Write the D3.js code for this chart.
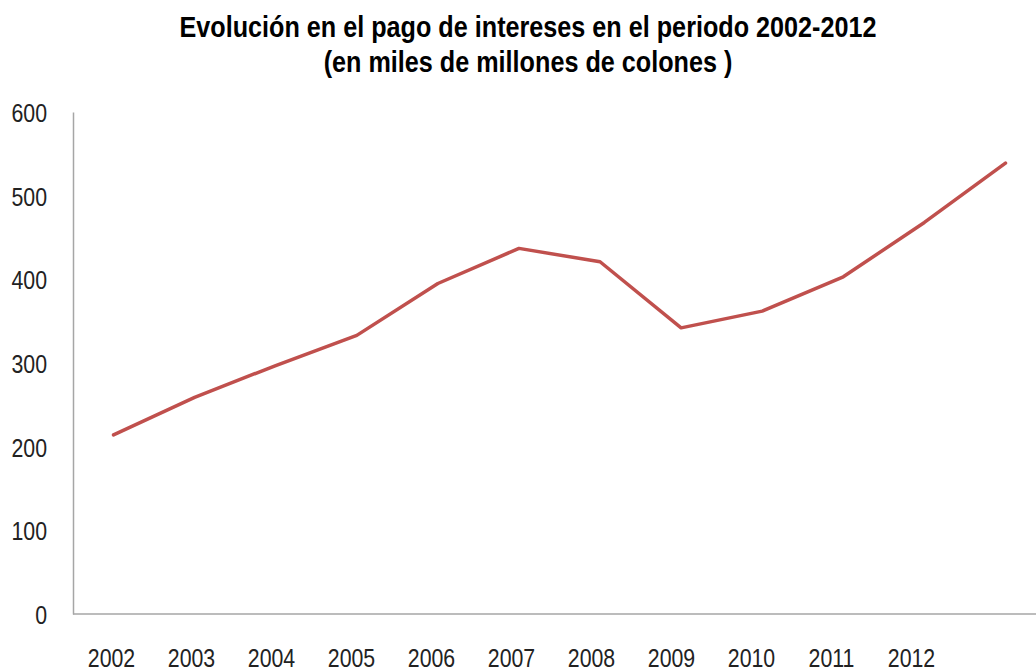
<!DOCTYPE html>
<html>
  <head>
    <style>
      body { margin: 0; background: #fff; }
      text { font-family: "Liberation Sans", Arial, sans-serif; fill: #222; }
      .title { font-weight: bold; font-size: 30px; fill: #000; }
      .tick text { font-size: 26px; }
    </style>
  </head>
  <body>
    <script src="https://cdn.jsdelivr.net/npm/d3@7/dist/d3.min.js"></script>
    <script>
      // categories (last point has no label in the original)
      var years = ["2002", "2003", "2004", "2005", "2006", "2007", "2008", "2009", "2010", "2011", "2012", "2013"];
      var yearLabels = ["2002", "2003", "2004", "2005", "2006", "2007", "2008", "2009", "2010", "2011", "2012"];
      var intereses = [214, 259, 297, 333, 395, 437, 421, 342, 362, 403, 468, 539];
      var yTicks = [0, 100, 200, 300, 400, 500, 600];

      var width = 1036, height = 671;
      var margin = { top: 112, right: -10, bottom: 57, left: 73 };
      var squeeze = 0.82;   // the original type is narrow and tall

      var svg = d3.select("body")
          .append("svg")
          .attr("width", width)
          .attr("height", height);

      var x = d3.scaleBand()
          .domain(years)
          .range([margin.left, width - margin.right]);

      var y = d3.scaleLinear()
          .domain([0, 600])
          .range([height - margin.bottom, margin.top]);

      // title
      var titles = ["Evolución en el pago de intereses en el periodo 2002-2012",
                    "(en miles de millones de colones )"];
      svg.selectAll(".title")
        .data(titles)
        .enter()
        .append("text")
        .attr("class", "title")
        .attr("text-anchor", "middle")
        .attr("transform", function (d, i) { return "translate(528," + (37 + i * 35) + ") scale(0.84,1)"; })
        .text(function (d) { return d; });

      // y axis
      var yAxis = svg.append("g")
          .attr("transform", "translate(" + margin.left + ",0)")
          .call(d3.axisLeft(y).tickValues(yTicks).tickSize(0));
      yAxis.select(".domain").attr("stroke", "#a6a6a6").attr("stroke-width", 1.5);
      yAxis.selectAll(".tick text")
        .attr("x", -26 / squeeze)
        .attr("dy", "0.36em")
        .attr("transform", "scale(" + squeeze + ",1)");

      // x axis, labels sit on their own slightly tighter spacing
      var xLab = d3.scalePoint()
          .domain(yearLabels)
          .range([111, 911]);
      var xAxis = svg.append("g")
          .attr("transform", "translate(0," + y(0) + ")")
          .call(d3.axisBottom(xLab).tickSize(0));
      xAxis.select(".domain").remove();
      xAxis.selectAll(".tick text")
        .attr("y", 53)
        .attr("dy", 0)
        .attr("transform", "scale(" + squeeze + ",1)");
      svg.append("line")
        .attr("x1", margin.left).attr("x2", width)
        .attr("y1", y(0)).attr("y2", y(0))
        .attr("stroke", "#a6a6a6").attr("stroke-width", 1.5);

      var line = d3.line()
          .x(function (d, i) { return x(years[i]) + x.bandwidth() / 2; })
          .y(function (d) { return y(d); });

      svg.append("path")
        .datum(intereses)
        .attr("fill", "none")
        .attr("stroke", "#c0504d")
        .attr("stroke-width", 3.5)
        .attr("stroke-linejoin", "round")
        .attr("stroke-linecap", "round")
        .attr("d", line);
    </script>
  </body>
</html>
